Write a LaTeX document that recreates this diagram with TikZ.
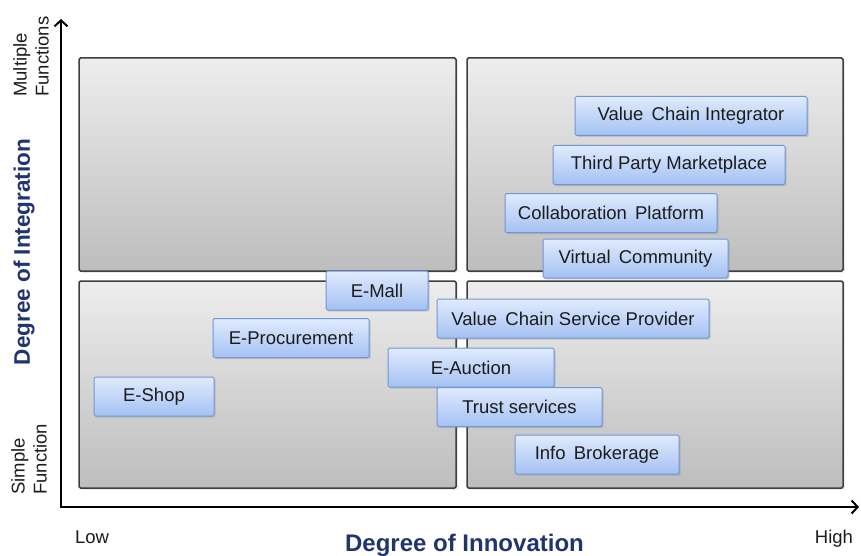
\documentclass[tikz,border=0pt]{standalone}
\usepackage{fontspec}
\setmainfont{Liberation Sans}
\usepackage{tikz}
\usetikzlibrary{arrows.meta, shadows}
\definecolor{frameline}{HTML}{3F3F3F}
\definecolor{quadtop}{HTML}{EDEDED}
\definecolor{quadbot}{HTML}{BDBDBD}
\definecolor{boxtop}{HTML}{E0EBFD}
\definecolor{boxbot}{HTML}{A4C1F3}
\definecolor{boxline}{HTML}{6F97D6}
\definecolor{boxtext}{HTML}{1C1C1C}
\definecolor{axistitle}{HTML}{1F3470}

\tikzset{
  quad/.style={draw=frameline, line width=1.5pt, rounded corners=1.5pt,
               top color=quadtop, bottom color=quadbot,
               drop shadow={shadow xshift=1.5pt, shadow yshift=-1.5pt, opacity=.25},
               inner sep=0pt},
  model/.style={draw=boxline, line width=1pt, rounded corners=1.5pt,
                top color=boxtop, bottom color=boxbot, text=boxtext,
                drop shadow={shadow xshift=1.5pt, shadow yshift=-1.5pt, opacity=.3},
                minimum height=39pt, inner sep=0pt,
                font=\fontsize{18.5}{22}\selectfont},
  scale label/.style={text=boxtext, inner sep=0pt,
                      font=\fontsize{18.5}{22}\selectfont},
  axis title/.style={text=axistitle, inner sep=0pt,
                     font=\bfseries\fontsize{22.5}{26}\selectfont}
}

\begin{document}
\begin{tikzpicture}[x=1pt, y=-1pt]
  \useasboundingbox (0,0) rectangle (861,556);

  % quadrants
  \node[quad, minimum width=377pt, minimum height=213pt] (lowmulti)  at (267.5,164.5) {};
  \node[quad, minimum width=376pt, minimum height=213pt] (highmulti) at (655,164.5) {};
  \node[quad, minimum width=377pt, minimum height=207pt] (lowsimple)  at (267.5,384.5) {};
  \node[quad, minimum width=376pt, minimum height=207pt] (highsimple) at (655,384.5) {};

  % axes
  \coordinate (origin) at (61,507);
  \coordinate (ytip) at (61,19);
  \coordinate (xtip) at (859,507);
  \draw[line width=2pt, {Straight Barb[length=6pt, width=13pt]}-{Straight Barb[length=6pt, width=13pt]}]
    (ytip) -- (origin) -- (xtip);

  % business models
  \node[model, minimum width=232pt] (vci)      at (691,116)   {Value\, Chain Integrator};
  \node[model, minimum width=232pt] (tpm)      at (669,165)   {Third Party Marketplace};
  \node[model, minimum width=212pt] (collab)   at (611,213)   {Collaboration\, Platform};
  \node[model, minimum width=185pt] (vcomm)    at (635.5,258.5) {Virtual\, Community};
  \node[model, minimum width=102pt] (emall)    at (377,290.5) {E-Mall};
  \node[model, minimum width=156pt] (eproc)    at (291,338)   {E-Procurement};
  \node[model, minimum width=120pt] (eshop)    at (154,396.5) {E-Shop};
  \node[model, minimum width=272pt] (vcsp)     at (573,318.5) {Value\, Chain Service Provider};
  \node[model, minimum width=166pt] (eauction) at (471,367.5) {E-Auction};
  \node[model, minimum width=165pt] (trust)    at (519.5,407) {Trust services};
  \node[model, minimum width=164pt] (info)     at (597,454.5) {Info\, Brokerage};

  % labels
  \node[axis title, rotate=90] (integration) at (24,252) {Degree of Integration};
  \node[axis title, font=\bfseries\fontsize{24}{28}\selectfont] (innovation) at (464.5,545) {Degree of Innovation};
  \node[scale label, rotate=90, align=left, anchor=west] (multi) at (31,97) {Multiple\\Functions};
  \node[scale label, rotate=90, align=left, anchor=west] (simple) at (29,495) {Simple\\Function};
  \node[scale label] (low) at (92,537) {Low};
  \node[scale label] (high) at (834,539) {High};
\end{tikzpicture}
\end{document}
